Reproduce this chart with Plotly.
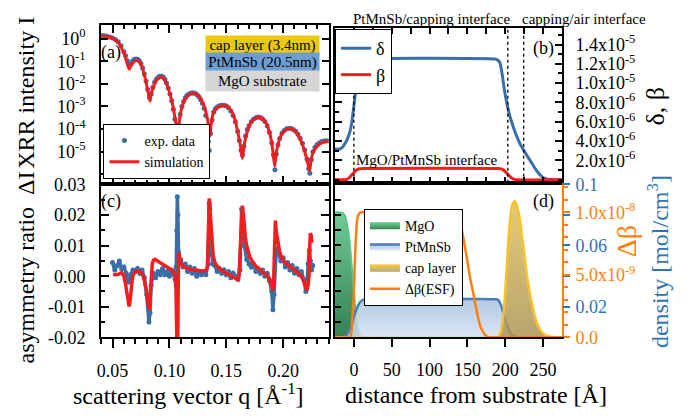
import numpy as np
import plotly.graph_objects as go

FONT = "Liberation Serif"
EXP_BLUE = "#3a6ea8"
SIM_RED = "#f21d1d"
ORANGE = "#ff7f0e"
AX_BLUE = "#2e74b5"

W, H = 696, 416
def fx(px): return px / W
def fy(px): return 1 - px / H

# ---------------- (a) XRR intensity (log10 values) ----------------
q_sim = [0.0400,0.0450,0.0493,0.0525,0.0552,0.0575,0.0596,0.0612,0.0625,0.0638,0.0648,0.0660,0.0683,0.0700,0.0721,0.0740,0.0756,0.0772,0.0786,0.0800,0.0815,0.0824,0.0830,0.0838,0.0859,0.0877,0.0897,0.0915,0.0932,0.0955,0.0976,0.0998,0.1019,0.1036,0.1049,0.1062,0.1072,0.1080,0.1093,0.1107,0.1122,0.1144,0.1166,0.1188,0.1210,0.1240,0.1268,0.1290,0.1312,0.1330,0.1341,0.1352,0.1358,0.1366,0.1385,0.1410,0.1445,0.1478,0.1510,0.1546,0.1575,0.1604,0.1625,0.1642,0.1658,0.1677,0.1700,0.1721,0.1750,0.1780,0.1810,0.1839,0.1865,0.1888,0.1908,0.1926,0.1940,0.1955,0.1975,0.1999,0.2028,0.2058,0.2090,0.2115,0.2140,0.2165,0.2189,0.2212,0.2233,0.2248,0.2262,0.2290,0.2321,0.2360,0.2400]
logI_sim = [0.14,0.09,0.03,-0.06,-0.18,-0.36,-0.6,-0.82,-1.03,-1.24,-1.36,-1.22,-1.06,-0.98,-0.96,-1.04,-1.2,-1.45,-1.73,-2.05,-2.43,-2.66,-2.76,-2.5,-2.15,-1.92,-1.78,-1.71,-1.7,-1.8,-2.01,-2.32,-2.71,-3.1,-3.5,-3.95,-4.45,-3.95,-3.45,-3.1,-2.86,-2.63,-2.5,-2.43,-2.41,-2.47,-2.6,-2.8,-3.08,-3.45,-3.75,-4.25,-4.3,-3.85,-3.3,-3.1,-2.99,-2.96,-3.0,-3.2,-3.55,-4.2,-4.75,-5.3,-4.7,-4.25,-3.88,-3.68,-3.54,-3.49,-3.53,-3.65,-3.9,-4.3,-4.9,-5.65,-5.05,-4.68,-4.35,-4.13,-4.02,-3.98,-4.04,-4.15,-4.35,-4.62,-4.98,-5.4,-5.85,-5.3,-5.05,-4.82,-4.66,-4.57,-4.54]

q_exp = [0.0400,0.0425,0.0450,0.0475,0.0500,0.0525,0.0550,0.0575,0.0600,0.0615,0.0630,0.0645,0.0660,0.0675,0.0690,0.0705,0.0720,0.0735,0.0750,0.0765,0.0780,0.0795,0.0810,0.0825,0.0840,0.0855,0.0870,0.0885,0.0900,0.0915,0.0930,0.0945,0.0960,0.0975,0.0990,0.1005,0.1020,0.1035,0.1048,0.1060,0.1070,0.1082,0.1095,0.1110,0.1125,0.1140,0.1155,0.1170,0.1185,0.1200,0.1215,0.1230,0.1245,0.1260,0.1275,0.1290,0.1305,0.1320,0.1332,0.1342,0.1350,0.1362,0.1375,0.1390,0.1405,0.1420,0.1440,0.1460,0.1480,0.1500,0.1520,0.1540,0.1560,0.1580,0.1600,0.1615,0.1630,0.1642,0.1655,0.1670,0.1685,0.1700,0.1720,0.1740,0.1760,0.1780,0.1800,0.1820,0.1840,0.1860,0.1880,0.1900,0.1915,0.1928,0.1940,0.1955,0.1970,0.1990,0.2010,0.2030,0.2050,0.2070,0.2090,0.2110,0.2130,0.2150,0.2170,0.2190,0.2210,0.2225,0.2235,0.2248,0.2262,0.2280,0.2300,0.2320,0.2340,0.2360,0.2380,0.2400]
logI_exp = [0.15,0.13,0.10,0.07,0.03,-0.04,-0.14,-0.32,-0.58,-0.76,-0.98,-1.15,-1.12,-1.0,-0.93,-0.9,-0.91,-0.98,-1.1,-1.3,-1.56,-1.88,-2.25,-2.6,-2.45,-2.15,-1.93,-1.8,-1.72,-1.67,-1.66,-1.7,-1.8,-1.96,-2.18,-2.45,-2.75,-3.12,-3.55,-3.95,-4.12,-3.8,-3.35,-3.0,-2.78,-2.62,-2.52,-2.46,-2.42,-2.4,-2.4,-2.43,-2.49,-2.57,-2.7,-2.86,-3.08,-3.4,-3.85,-4.55,-4.95,-4.2,-3.6,-3.25,-3.1,-3.02,-2.97,-2.95,-2.95,-2.98,-3.06,-3.2,-3.4,-3.68,-4.1,-4.5,-4.95,-5.15,-4.75,-4.3,-4.02,-3.85,-3.68,-3.56,-3.5,-3.47,-3.49,-3.55,-3.66,-3.85,-4.15,-4.6,-5.15,-5.8,-5.1,-4.7,-4.42,-4.18,-4.06,-3.99,-3.96,-3.97,-4.02,-4.1,-4.23,-4.4,-4.62,-4.92,-5.32,-5.75,-5.95,-5.35,-5.0,-4.8,-4.68,-4.6,-4.55,-4.53,-4.52,-4.53]

# ---------------- (c) asymmetry ratio ----------------
q_asym_exp = [0.050,0.052,0.054,0.056,0.058,0.060,0.062,0.064,0.066,0.068,0.070,0.072,0.074,0.076,0.078,0.080,0.082,0.083,0.084,0.086,0.088,0.090,0.092,0.094,0.096,0.098,0.100,0.102,0.104,0.105,0.106,0.1065,0.107,0.1075,0.108,0.109,0.110,0.112,0.114,0.116,0.118,0.120,0.122,0.124,0.126,0.128,0.130,0.132,0.134,0.1350,0.1355,0.136,0.137,0.138,0.140,0.142,0.144,0.146,0.148,0.150,0.152,0.154,0.156,0.158,0.160,0.162,0.1635,0.1645,0.166,0.168,0.170,0.172,0.174,0.176,0.178,0.180,0.182,0.184,0.186,0.188,0.190,0.191,0.192,0.193,0.194,0.196,0.198,0.200,0.202,0.204,0.206,0.208,0.210,0.212,0.214,0.216,0.218,0.220,0.221,0.222,0.223,0.224,0.225,0.226]
asym_exp = [0.0045,0.0020,0.0035,0.0050,0.0025,0.0030,0.0010,-0.0020,0.0005,0.0020,0.0015,0.0025,0.0010,0.0020,-0.0005,-0.0060,-0.0150,-0.0120,-0.0030,0.0010,-0.0005,0.0015,0.0005,0.0025,0.0005,0.0015,0.0000,0.0020,0.0005,-0.0010,0.0030,0.0150,0.0260,0.0200,0.0080,0.0040,0.0055,0.0030,0.0040,0.0015,0.0030,0.0010,0.0025,0.0000,0.0015,0.0005,0.0015,0.0005,0.0040,0.0240,0.0220,0.0140,0.0070,0.0040,0.0035,0.0015,0.0025,0.0010,0.0020,0.0005,0.0015,-0.0005,0.0010,0.0000,-0.0010,0.0020,0.0220,0.0200,0.0100,0.0055,0.0040,0.0030,0.0040,0.0015,0.0025,0.0010,0.0020,0.0000,0.0010,-0.0015,-0.0050,-0.0110,-0.0060,0.0060,0.0090,0.0080,0.0050,0.0060,0.0030,0.0045,0.0020,0.0035,0.0010,0.0025,0.0005,0.0015,-0.0010,-0.0050,-0.0030,0.0040,0.0085,0.0050,0.0020,0.0035]

q_asym_sim = [0.0505,0.0552,0.0581,0.0600,0.0612,0.0625,0.0635,0.0646,0.0653,0.0660,0.0668,0.0677,0.0695,0.0712,0.0740,0.0760,0.0775,0.0786,0.0797,0.0806,0.0815,0.0821,0.0828,0.0835,0.0843,0.0850,0.0860,0.0874,0.0900,0.0932,0.0960,0.0990,0.1015,0.1034,0.1049,0.1058,0.1063,0.1067,0.1072,0.1077,0.1082,0.1092,0.1107,0.1130,0.1151,0.1190,0.1224,0.1270,0.1312,0.1328,0.1335,0.1342,0.1348,0.1351,0.1356,0.1365,0.1375,0.1385,0.1400,0.1429,0.1465,0.1502,0.1535,0.1561,0.1585,0.1604,0.1612,0.1620,0.1628,0.1635,0.1642,0.1650,0.1657,0.1667,0.1677,0.1690,0.1707,0.1735,0.1765,0.1800,0.1839,0.1865,0.1882,0.1897,0.1911,0.1917,0.1923,0.1932,0.1940,0.1955,0.1970,0.1984,0.2010,0.2043,0.2080,0.2116,0.2150,0.2175,0.2195,0.2210,0.2218,0.2227,0.2233,0.2239,0.2246,0.2253]
asym_sim = [0.0005,0.0006,0.0012,0.0,-0.002,-0.005,-0.0078,-0.0099,-0.0085,-0.0052,-0.0022,0.0,0.0013,0.0017,0.0015,0.0008,-0.0005,-0.002,-0.0045,-0.0072,-0.0098,-0.0110,-0.008,-0.003,0.0015,0.0042,0.0052,0.0055,0.0049,0.0042,0.0036,0.0029,0.0022,0.0014,0.0,-0.004,-0.0103,-0.019,-0.035,-0.005,0.0078,0.0055,0.0038,0.0031,0.0026,0.0022,0.0020,0.0018,0.0018,0.0022,0.0035,0.012,0.022,0.0255,0.023,0.0175,0.011,0.0068,0.0045,0.0028,0.0018,0.0010,0.0005,0.0,-0.0006,-0.0012,0.0,0.006,0.015,0.0215,0.0231,0.0205,0.0167,0.013,0.0104,0.0082,0.0063,0.0045,0.0031,0.0020,0.0010,0.0,-0.001,-0.0025,-0.0047,-0.0005,0.0104,0.0182,0.0145,0.0104,0.0080,0.0063,0.0048,0.0037,0.0026,0.0016,0.0004,-0.001,-0.0028,-0.0047,-0.003,0.0,0.008,0.014,0.0135,0.011]

# ---------------- (b) optical constants (units of 1e-6) ----------------
dist_delta = [-25.5,-18,-14,-11,-8,-5.5,-3.5,-1,1,2.5,4,6,8,12,16,186,190,193,196,199,203,206,210,213,216,220,225,230,234,238,242,246,251,256,260,274.7]
delta_e6 = [3.15,3.2,3.48,3.85,4.34,4.9,5.62,7.0,8.28,9.4,10.55,11.5,12.0,12.36,12.5,12.5,12.4,12.1,10.9,9.24,7.59,6.6,5.62,4.95,4.34,3.65,2.99,2.35,1.87,1.35,0.89,0.5,0.2,0.06,0.02,0.0]
dist_beta = [-25.5,-14,-10,-7,-4,-1,2,5,8,12,190,194,197,200,203,206,209,212,215,274.7]
beta_e6 = [0,0,0.03,0.15,0.4,0.65,0.93,1.08,1.15,1.18,1.18,1.15,1.05,0.85,0.6,0.36,0.16,0.05,0,0]
interface_positions = [0, 203.4, 224.4]

# ---------------- (d) density profiles and delta-beta ----------------
dist_mgo = [-25.5,-16,-12,-8,-5.5,-3.5,-1.5,0,1.5,3,5,7.5,10,14,20,274.7]
dens_mgo = [0.0817,0.0815,0.0796,0.071,0.062,0.05,0.04,0.03,0.021,0.013,0.007,0.0025,0.0008,0.0001,0,0]
dist_pt = [-25.5,-16,-12,-8,-5,-2,1,4,7.5,11,16,188,191,194.5,197,199,202,205,209,214,220,274.7]
dens_pt = [0,0,0.0005,0.0025,0.0055,0.0095,0.015,0.019,0.0225,0.0242,0.0248,0.0248,0.0242,0.021,0.0165,0.013,0.0085,0.0046,0.0018,0.0005,0,0]
dist_cap = [-25.5,190,194,197,200,203,206,209,212.5,216,219,222,225,228,231,234,237,240,244,248,253,260,268,274.7]
dens_cap = [0,0,0.003,0.012,0.03,0.055,0.075,0.086,0.089,0.085,0.078,0.067,0.055,0.043,0.033,0.025,0.018,0.012,0.007,0.0035,0.0015,0.0003,0,0]
dist_esf = [-25.5,-5,-3,-1.5,0,1,2.2,3.5,4.5,7,10,131,134,138,141,144.5,148,151,154,157.5,161,164,167,170.5,174,177,180,274.7]
dbeta_e8 = [0,0,0.05,0.2,0.36,0.55,0.74,0.88,0.95,0.99,1.0,1.0,0.99,0.96,0.9,0.8,0.68,0.57,0.46,0.36,0.25,0.16,0.09,0.045,0.015,0.003,0,0]

delta = [v * 1e-6 for v in delta_e6]
beta = [v * 1e-6 for v in beta_e6]
dbeta = [v * 1e-8 for v in dbeta_e8]

fig = go.Figure()

# (a)
fig.add_trace(go.Scatter(x=q_exp, y=10 ** np.array(logI_exp), mode="markers",
                         marker=dict(size=5, color=EXP_BLUE), name="exp. data",
                         xaxis="x", yaxis="y", legend="legend"))
fig.add_trace(go.Scatter(x=q_sim, y=10 ** np.array(logI_sim), mode="lines",
                         line=dict(color=SIM_RED, width=3, shape="spline", smoothing=0.5),
                         name="simulation", xaxis="x", yaxis="y", legend="legend"))
# (c)
fig.add_trace(go.Scatter(x=q_asym_exp, y=asym_exp, mode="lines+markers",
                         line=dict(color=EXP_BLUE, width=3.5), marker=dict(size=5, color=EXP_BLUE),
                         showlegend=False, xaxis="x3", yaxis="y3"))
fig.add_trace(go.Scatter(x=q_asym_sim, y=asym_sim, mode="lines",
                         line=dict(color=SIM_RED, width=3.5), showlegend=False,
                         xaxis="x3", yaxis="y3"))
# (b)
fig.add_trace(go.Scatter(x=dist_delta, y=delta, mode="lines", name="δ",
                         line=dict(color=EXP_BLUE, width=3, shape="spline", smoothing=0.5),
                         xaxis="x2", yaxis="y2", legend="legend2"))
fig.add_trace(go.Scatter(x=dist_beta, y=beta, mode="lines", name="β",
                         line=dict(color=SIM_RED, width=3, shape="spline", smoothing=0.5),
                         xaxis="x2", yaxis="y2", legend="legend2"))
# (d)
fig.add_trace(go.Scatter(x=dist_mgo, y=dens_mgo, mode="lines", name="MgO", fill="tozeroy",
                         line=dict(color="#5ec48c", width=2, shape="spline", smoothing=0.5),
                         fillgradient=dict(type="vertical", colorscale=[[0, "rgba(45,120,75,0.95)"], [1, "rgba(98,198,140,0.92)"]]),
                         xaxis="x4", yaxis="y4", legend="legend3"))
fig.add_trace(go.Scatter(x=dist_pt, y=dens_pt, mode="lines", name="PtMnSb", fill="tozeroy",
                         line=dict(color="#4a7eb5", width=2.5, shape="spline", smoothing=0.5),
                         fillgradient=dict(type="vertical", colorscale=[[0, "rgba(212,225,240,0.85)"], [1, "rgba(168,194,225,0.9)"]]),
                         xaxis="x4", yaxis="y4", legend="legend3"))
fig.add_trace(go.Scatter(x=dist_cap, y=dens_cap, mode="lines", name="cap layer", fill="tozeroy",
                         line=dict(color="#f6c42a", width=2.5, shape="spline", smoothing=0.5),
                         fillgradient=dict(type="vertical", colorscale=[[0, "rgba(172,148,86,0.85)"], [1, "rgba(226,196,98,0.88)"]]),
                         xaxis="x4", yaxis="y4", legend="legend3"))
fig.add_trace(go.Scatter(x=[None], y=[None], showlegend=False, xaxis="x4", yaxis="y5"))
fig.add_trace(go.Scatter(x=dist_esf, y=dbeta, mode="lines", name="Δβ(ESF)",
                         line=dict(color=ORANGE, width=2.5, shape="spline", smoothing=0.5),
                         xaxis="x4", yaxis="y6", legend="legend3"))

for xv in interface_positions:
    fig.add_shape(type="line", xref="x2", yref="y2 domain", x0=xv, x1=xv, y0=0, y1=1,
                  line=dict(color="black", width=1.3, dash="dot"))

TF = dict(family=FONT, size=18, color="black")
base = dict(showgrid=False, zeroline=False, showline=True, linecolor="black", linewidth=2,
            tickcolor="black", tickwidth=1.5, tickfont=TF)

LX = [fx(97.7), fx(326.5)]
RX = [fx(332.5), fx(561)]
ROW_A = [fy(183), fy(17)]
ROW_C = [fy(344), fy(183)]
ROW_B = [fy(182), fy(20)]
ROW_D = [fy(344), fy(182)]

dec_vals = [1e-6, 1e-5, 1e-4, 1e-3, 1e-2, 1e-1, 1]
dec_text = ["", "10<sup>-5</sup>", "10<sup>-4</sup>", "10<sup>-3</sup>", "10<sup>-2</sup>", "10<sup>-1</sup>", "10<sup>0</sup>"]
b_vals = [2e-6, 4e-6, 6e-6, 8e-6, 10e-6, 12e-6, 14e-6]
b_text = ["2.0x10<sup>-6</sup>", "4.0x10<sup>-6</sup>", "6.0x10<sup>-6</sup>", "8.0x10<sup>-6</sup>",
          "1.0x10<sup>-5</sup>", "1.2x10<sup>-5</sup>", "1.4x10<sup>-5</sup>"]

fig.update_layout(
    width=W, height=H, margin=dict(l=0, r=0, t=0, b=0),
    paper_bgcolor="white", plot_bgcolor="white",
    font=dict(family=FONT, color="black"),
    xaxis=dict(base, domain=LX, anchor="y", range=[0.04, 0.24], tick0=0, dtick=0.05,
               showticklabels=False, ticks="inside", ticklen=8, mirror="ticks",
               minor=dict(dtick=0.01, tick0=0, ticks="inside", ticklen=4, tickcolor="black")),
    yaxis=dict(base, domain=ROW_A, anchor="x", type="log", range=[-6.41, 0.59],
               tickmode="array", tickvals=dec_vals, ticktext=dec_text,
               ticks="inside", ticklen=7, mirror="ticks", ticklabelstandoff=10),
    xaxis3=dict(base, domain=LX, anchor="y3", range=[0.04, 0.24], tick0=0, dtick=0.05,
                tickformat=".2f", ticks="outside", ticklen=9, mirror=True, ticklabelstandoff=7,
                minor=dict(dtick=0.01, tick0=0, ticks="outside", ticklen=5, tickcolor="black")),
    yaxis3=dict(base, domain=ROW_C, anchor="x3", range=[-0.02, 0.0303],
                tickmode="array", tickvals=[-0.02, -0.01, 0, 0.01, 0.02, 0.03],
                ticktext=["-0.02", "-0.01", "0.00", "0.01", "0.02", "0.03"],
                ticks="inside", ticklen=8, mirror="ticks", ticklabelstandoff=10,
                minor=dict(dtick=0.005, tick0=0, ticks="inside", ticklen=4, tickcolor="black")),
    xaxis2=dict(base, domain=RX, anchor="y2", range=[-25.5, 274.7], tick0=0, dtick=25,
                showticklabels=False, ticks="inside", ticklen=6, mirror="ticks"),
    yaxis2=dict(base, domain=ROW_B, anchor="x2", side="right", range=[-0.3e-6, 15.7e-6],
                tickmode="array", tickvals=b_vals, ticktext=b_text,
                ticks="inside", ticklen=7, mirror="ticks", ticklabelstandoff=8,
                minor=dict(dtick=1e-6, tick0=0, ticks="inside", ticklen=4, tickcolor="black")),
    xaxis4=dict(base, domain=RX, anchor="y4", range=[-25.5, 274.7], tick0=0, dtick=50,
                ticks="outside", ticklen=8, mirror=True, ticklabelstandoff=7),
    yaxis4=dict(base, domain=ROW_D, anchor="x4", range=[0, 0.101], tick0=0, dtick=0.01,
                showticklabels=False, ticks="inside", ticklen=6, mirror=False),
    yaxis5=dict(showgrid=False, zeroline=False, showline=False, overlaying="y4", anchor="x4",
                side="right", range=[0, 0.101], tickmode="array", tickvals=[0.02, 0.06, 0.1],
                ticktext=["0.02", "0.06", "0.1"], ticks="outside", ticklen=7, tickwidth=1.5,
                tickcolor=AX_BLUE, tickfont=dict(family=FONT, size=18, color=AX_BLUE),
                ticklabelstandoff=2,
                minor=dict(dtick=0.02, tick0=0, ticks="outside", ticklen=7, tickcolor=AX_BLUE)),
    yaxis6=dict(showgrid=False, zeroline=False, showline=True, linecolor=ORANGE, linewidth=2,
                overlaying="y4", anchor="x4", side="right", range=[0, 1.237e-8],
                tickmode="array", tickvals=[0, 5e-9, 1e-8],
                ticktext=["0.0", "5.0x10<sup>-9</sup>", "1.0x10<sup>-8</sup>"],
                ticks="outside", ticklen=6, tickwidth=1.5, tickcolor=ORANGE,
                tickfont=dict(family=FONT, size=18, color=ORANGE), ticklabelstandoff=2,
                minor=dict(dtick=1e-9, tick0=0, ticks="outside", ticklen=4, tickcolor=ORANGE)),
    legend=dict(x=fx(100), y=fy(178), xanchor="left", yanchor="bottom", bgcolor="white",
                bordercolor="black", borderwidth=1, font=dict(family=FONT, size=14),
                tracegroupgap=0, itemwidth=30),
    legend2=dict(x=fx(333), y=fy(21), xanchor="left", yanchor="top", bgcolor="white",
                 bordercolor="black", borderwidth=1, font=dict(family=FONT, size=18),
                 tracegroupgap=0, itemwidth=30),
    legend3=dict(x=fx(362), y=fy(260), xanchor="left", yanchor="middle", bgcolor="white",
                 bordercolor="black", borderwidth=1, font=dict(family=FONT, size=14),
                 tracegroupgap=0, itemwidth=30),
)

def ann(text, x, y, size=15, color="black", angle=0, **kw):
    d = dict(text=text, x=fx(x), y=fy(y), xref="paper", yref="paper", showarrow=False,
             xanchor="center", yanchor="middle", textangle=angle,
             font=dict(family=FONT, size=size, color=color))
    d.update(kw)
    fig.add_annotation(**d)

# layer boxes in (a)
ann("cap layer (3.4nm)", 259.5, 37.5, bgcolor="#ecc812", width=113, height=18, borderpad=0)
ann("PtMnSb (20.5nm)", 259.5, 56, bgcolor="#6f9dd0", width=113, height=18, borderpad=0)
ann("MgO substrate", 259.5, 75.5, bgcolor="#d6d6d6", width=113, height=20, borderpad=0)

# panel labels
ann("(a)", 108, 46, size=18)
ann("(c)", 108, 202, size=18)
ann("(b)", 543, 41, size=18)
ann("(d)", 543, 202, size=18)

# interface labels
ann("PtMnSb/capping interface", 430, 11)
ann("capping/air interface", 583, 11)
ann("MgO/PtMnSb interface", 425, 158)

# axis titles
ann("XRR intensity I", 22, 88, size=24, angle=-90)
ann("asymmetry ratio  ΔI", 22, 271, size=24, angle=-90)
ann("scattering vector q [Å<sup>-1</sup>]", 185.5, 403, size=24)
ann("distance from substrate [Å]", 475, 404, size=24)
ann("δ, β", 655, 102, size=26, angle=-90)
ann("Δβ", 626, 243, size=28, color=ORANGE, angle=-90)
ann("density [mol/cm<sup>3</sup>]", 658, 265, size=24, color=AX_BLUE, angle=-90)

fig.write_html("out.html")
